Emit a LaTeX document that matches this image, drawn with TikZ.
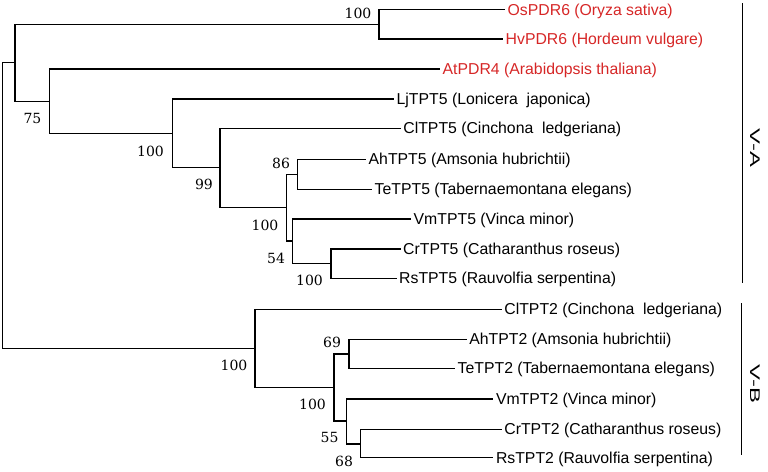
\documentclass[tikz,border=0pt]{standalone}
\usepackage{fontspec}
\setmainfont{Liberation Sans}
\newfontfamily\numfont{DejaVu Serif}
\definecolor{leafred}{RGB}{214,38,38}
\begin{document}
\begin{tikzpicture}[x=1pt,y=-1pt,
  branch/.style={line width=1.1pt,line join=miter},
  leaf/.style={anchor=west,inner sep=2.5pt,font=\fontsize{15.8}{18}\selectfont,text height=11.3pt,text depth=0pt},
  redleaf/.style={leaf,text=leafred},
  boot/.style={inner sep=0pt,font=\numfont\fontsize{14}{16}\selectfont},
  clade/.style={inner sep=0pt,rotate=-90,font=\fontsize{14}{16}\selectfont},
  bar/.style={line width=1.1pt}]
\useasboundingbox (0,0) rectangle (768,471);
% internal nodes
\coordinate (r) at (2.7,205.2);
\coordinate (n1) at (15,62.3);
\coordinate (pdr) at (379,24.3);
\coordinate (n2) at (49.3,101.2);
\coordinate (n3) at (172.3,133.3);
\coordinate (n4) at (220,167.5);
\coordinate (n5) at (286.7,207.3);
\coordinate (n6) at (297.7,174.3);
\coordinate (n7) at (292.7,241);
\coordinate (n8) at (331,263.7);
\coordinate (nb) at (255,348.5);
\coordinate (n9) at (334,387.7);
\coordinate (n10) at (349,354);
\coordinate (n11) at (346.7,421);
\coordinate (n12) at (360.7,444);
% leaves
\node[redleaf] (os) at (505,9.5) {OsPDR6 (Oryza sativa)};
\node[redleaf] (hv) at (503,39) {HvPDR6 (Hordeum vulgare)};
\node[redleaf] (at) at (440,69) {AtPDR4 (Arabidopsis thaliana)};
\node[leaf] (lj) at (394,99) {LjTPT5 (Lonicera\ \ japonica)};
\node[leaf] (cl) at (400.7,128.3) {ClTPT5 (Cinchona\ \ ledgeriana)};
\node[leaf] (ah) at (366,159.3) {AhTPT5 (Amsonia hubrichtii)};
\node[leaf] (te) at (372,189.3) {TeTPT5 (Tabernaemontana elegans)};
\node[leaf] (vm) at (411,219) {VmTPT5 (Vinca minor)};
\node[leaf] (cr) at (400.5,249) {CrTPT5 (Catharanthus roseus)};
\node[leaf] (rs) at (396.5,278.3) {RsTPT5 (Rauvolfia serpentina)};
\node[leaf] (cl2) at (501.7,309.3) {ClTPT2 (Cinchona\ \ ledgeriana)};
\node[leaf] (ah2) at (466.7,339.3) {AhTPT2 (Amsonia hubrichtii)};
\node[leaf] (te2) at (455,368.3) {TeTPT2 (Tabernaemontana elegans)};
\node[leaf] (vm2) at (493.3,399) {VmTPT2 (Vinca minor)};
\node[leaf] (cr2) at (501.7,429.3) {CrTPT2 (Catharanthus roseus)};
\node[leaf] (rs2) at (493.3,457.7) {RsTPT2 (Rauvolfia serpentina)};
% branches
\draw[branch] (r) |- (n1);
\draw[branch] (r) |- (nb);
\draw[branch] (n1) |- (pdr);
\draw[branch] (n1) |- (n2);
\draw[branch] (pdr) |- (os.west);
\draw[branch] (pdr) |- (hv.west);
\draw[branch] (n2) |- (at.west);
\draw[branch] (n2) |- (n3);
\draw[branch] (n3) |- (lj.west);
\draw[branch] (n3) |- (n4);
\draw[branch] (n4) |- (cl.west);
\draw[branch] (n4) |- (n5);
\draw[branch] (n5) |- (n6);
\draw[branch] (n5) |- (n7);
\draw[branch] (n6) |- (ah.west);
\draw[branch] (n6) |- (te.west);
\draw[branch] (n7) |- (vm.west);
\draw[branch] (n7) |- (n8);
\draw[branch] (n8) |- (cr.west);
\draw[branch] (n8) |- (rs.west);
\draw[branch] (nb) |- (cl2.west);
\draw[branch] (nb) |- (n9);
\draw[branch] (n9) |- (n10);
\draw[branch] (n9) |- (n11);
\draw[branch] (n10) |- (ah2.west);
\draw[branch] (n10) |- (te2.west);
\draw[branch] (n11) |- (vm2.west);
\draw[branch] (n11) |- (n12);
\draw[branch] (n12) |- (cr2.west);
\draw[branch] (n12) |- (rs2.west);
% bootstrap values
\node[boot] (b1) at (358,13.5) {100};
\node[boot] (b2) at (32.5,118) {75};
\node[boot] (b3) at (150.5,151) {100};
\node[boot] (b4) at (204,184) {99};
\node[boot] (b5) at (281,163) {86};
\node[boot] (b6) at (265,225) {100};
\node[boot] (b7) at (276,258.3) {54};
\node[boot] (b8) at (309.5,280) {100};
\node[boot] (b9) at (234,365) {100};
\node[boot] (b10) at (332,342.7) {69};
\node[boot] (b11) at (312.5,404.3) {100};
\node[boot] (b12) at (329.5,437.7) {55};
\node[boot] (b13) at (344,461) {68};
% clade bars
\coordinate (vat) at (742.7,3);
\coordinate (vab) at (742.7,283);
\coordinate (vbt) at (741.7,303);
\coordinate (vbb) at (741.7,455);
\draw[bar] (vat) -- (vab);
\draw[bar] (vbt) -- (vbb);
\node[clade] (va) at (755,148) {\scalebox{1.7}[1]{V-A}};
\node[clade] (vb) at (755,384) {\scalebox{1.7}[1]{V-B}};
\end{tikzpicture}
\end{document}
